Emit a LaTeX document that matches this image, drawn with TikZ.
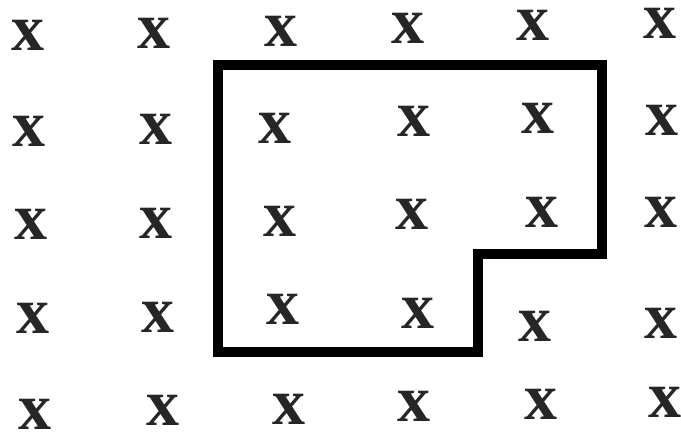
\documentclass[tikz,border=0pt]{standalone}
\usepackage{fontspec}
\setmainfont{Liberation Serif}
\begin{document}
\begin{tikzpicture}[x=1pt,y=-1pt,
  xmark/.style={inner sep=0pt,outer sep=0pt,text=black!85,font=\fontsize{66}{66}\selectfont\bfseries},
  outline/.style={line width=10.5pt,line join=miter,black}]
\useasboundingbox (0,0) rectangle (681,432);
% row 1
\node[xmark] (r1c1) at (28,35) {x};
\node[xmark] (r1c2) at (154,33) {x};
\node[xmark] (r1c3) at (281,31) {x};
\node[xmark] (r1c4) at (408,28) {x};
\node[xmark] (r1c5) at (533,25) {x};
\node[xmark] (r1c6) at (660,23) {x};
% row 2
\node[xmark] (r2c1) at (29,131) {x};
\node[xmark] (r2c2) at (156,129) {x};
\node[xmark] (r2c3) at (275,128) {x};
\node[xmark] (r2c4) at (414,121) {x};
\node[xmark] (r2c5) at (538,118) {x};
\node[xmark] (r2c6) at (662,120) {x};
% row 3
\node[xmark] (r3c1) at (31,224) {x};
\node[xmark] (r3c2) at (156,223) {x};
\node[xmark] (r3c3) at (280,221) {x};
\node[xmark] (r3c4) at (412,214) {x};
\node[xmark] (r3c5) at (542,212) {x};
\node[xmark] (r3c6) at (661,212) {x};
% row 4
\node[xmark] (r4c1) at (33,318) {x};
\node[xmark] (r4c2) at (158,317) {x};
\node[xmark] (r4c3) at (283,309) {x};
\node[xmark] (r4c4) at (418,313) {x};
\node[xmark] (r4c5) at (535,326) {x};
\node[xmark] (r4c6) at (661,323) {x};
% row 5
\node[xmark] (r5c1) at (35,414) {x};
\node[xmark] (r5c2) at (163,410) {x};
\node[xmark] (r5c3) at (289,409) {x};
\node[xmark] (r5c4) at (414,406) {x};
\node[xmark] (r5c5) at (541,404) {x};
\node[xmark] (r5c6) at (665,402) {x};
% outline
\draw[outline] (218,65) -- (602,65) -- (602,254) -- (478,254) -- (478,352) -- (218,352) -- cycle;
\end{tikzpicture}
\end{document}
